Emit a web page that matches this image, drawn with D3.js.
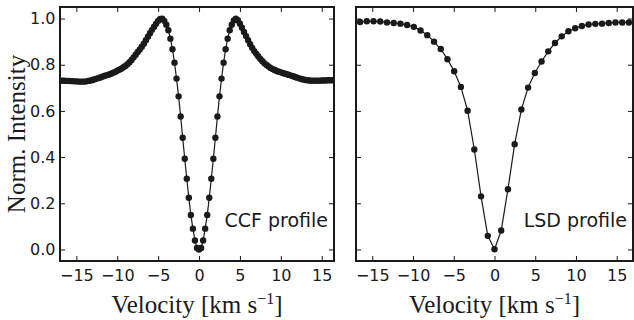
<!DOCTYPE html>
<html>
<head>
<meta charset="utf-8">
<script src="https://cdn.jsdelivr.net/npm/d3@7"></script>
<style>
  body { margin: 0; background: #fff; }
  .tick text { font-family: "DejaVu Sans", sans-serif; font-size: 16px; fill: #1a1a1a; }
  .tick line { stroke: #1a1a1a; stroke-width: 1; }
  .axis-label { font-family: "Liberation Serif", serif; font-size: 25px; fill: #1a1a1a; }
  .profile-label { font-family: "DejaVu Sans", sans-serif; font-size: 19px; fill: #1a1a1a; }
</style>
</head>
<body>
<div id="viz"></div>
<script>
const width = 634;
const height = 320;

// CCF profile (velocity in km/s, normalised intensity)
const ccfVelocity = [
  -17, -16.75, -16.5, -16.25, -16, -15.75, -15.5, -15.25, -15, -14.75, -14.5, -14.25, -14, -13.75, -13.5, -13.25,
  -13, -12.75, -12.5, -12.25, -12, -11.75, -11.5, -11.25, -11, -10.75, -10.5, -10.25, -10, -9.75, -9.5, -9.25,
  -9, -8.75, -8.5, -8.25, -8, -7.75, -7.5, -7.25, -7, -6.75, -6.5, -6.25, -6, -5.75, -5.5, -5.25,
  -5, -4.75, -4.5, -4.25, -4, -3.75, -3.5, -3.25, -3, -2.75, -2.5, -2.25, -2, -1.75, -1.5, -1.25,
  -1, -0.75, -0.5, -0.25, 0, 0.25, 0.5, 0.75, 1, 1.25, 1.5, 1.75, 2, 2.25, 2.5, 2.75,
  3, 3.25, 3.5, 3.75, 4, 4.25, 4.5, 4.75, 5, 5.25, 5.5, 5.75, 6, 6.25, 6.5, 6.75,
  7, 7.25, 7.5, 7.75, 8, 8.25, 8.5, 8.75, 9, 9.25, 9.5, 9.75, 10, 10.25, 10.5, 10.75,
  11, 11.25, 11.5, 11.75, 12, 12.25, 12.5, 12.75, 13, 13.25, 13.5, 13.75, 14, 14.25, 14.5, 14.75,
  15, 15.25, 15.5, 15.75, 16, 16.25, 16.5
];
const ccfIntensity = [
  0.731, 0.731, 0.731, 0.730, 0.730, 0.729, 0.729, 0.728, 0.728, 0.727, 0.727, 0.727, 0.727, 0.728, 0.730, 0.732,
  0.734, 0.737, 0.740, 0.743, 0.746, 0.749, 0.752, 0.755, 0.758, 0.761, 0.765, 0.769, 0.774, 0.778, 0.783, 0.789,
  0.795, 0.802, 0.811, 0.821, 0.832, 0.843, 0.855, 0.866, 0.878, 0.891, 0.906, 0.921, 0.936, 0.951, 0.965, 0.978,
  0.990, 0.998, 0.999, 0.990, 0.973, 0.949, 0.913, 0.867, 0.809, 0.740, 0.663, 0.576, 0.484, 0.393, 0.306, 0.224,
  0.149, 0.090, 0.039, 0.006, 0.000, 0.006, 0.039, 0.090, 0.149, 0.224, 0.306, 0.393, 0.484, 0.576, 0.663, 0.740,
  0.809, 0.867, 0.913, 0.949, 0.973, 0.992, 0.999, 0.993, 0.978, 0.960, 0.942, 0.924, 0.906, 0.889, 0.873, 0.859,
  0.847, 0.836, 0.825, 0.815, 0.806, 0.799, 0.792, 0.786, 0.781, 0.777, 0.773, 0.770, 0.767, 0.764, 0.761, 0.759,
  0.756, 0.753, 0.750, 0.747, 0.744, 0.741, 0.738, 0.736, 0.734, 0.733, 0.732, 0.731, 0.731, 0.731, 0.731, 0.731,
  0.732, 0.732, 0.732, 0.733, 0.733, 0.733, 0.733
];

// LSD profile
const lsdVelocity = [
  -16.5, -15.675, -14.85, -14.025, -13.2, -12.375, -11.55, -10.725, -9.9, -9.075, -8.25, -7.425, -6.6, -5.775,
  -4.95, -4.125, -3.3, -2.475, -1.65, -0.825, 0, 0.825, 1.65, 2.475, 3.3, 4.125, 4.95, 5.775, 6.6, 7.425,
  8.25, 9.075, 9.9, 10.725, 11.55, 12.375, 13.2, 14.025, 14.85, 15.675, 16.5
];
const lsdIntensity = [
  0.985, 0.988, 0.988, 0.987, 0.983, 0.981, 0.978, 0.972, 0.964, 0.948, 0.928, 0.900, 0.868, 0.824,
  0.772, 0.704, 0.601, 0.433, 0.230, 0.059, 0.001, 0.082, 0.261, 0.456, 0.606, 0.701, 0.764, 0.814, 0.858, 0.894,
  0.923, 0.945, 0.958, 0.968, 0.974, 0.977, 0.978, 0.981, 0.983, 0.983, 0.983
];

const xTicks = [-15, -10, -5, 0, 5, 10, 15];
const yTicks = [0, 0.2, 0.4, 0.6, 0.8, 1.0];

const svg = d3.select("#viz")
    .append("svg")
    .attr("width", width)
    .attr("height", height);

const plotTop = 7, plotBottom = 261;
const yScale = d3.scaleLinear().domain([-0.05, 1.05]).range([plotBottom, plotTop]);

const panels = [
    { id: "ccf", x0: 60, x1: 334, dom: [-17, 16.5], vel: ccfVelocity, val: ccfIntensity, label: "CCF profile", showY: true },
    { id: "lsd", x0: 356, x1: 633, dom: [-17, 17], vel: lsdVelocity, val: lsdIntensity, label: "LSD profile", showY: false }
];

panels.forEach(p => {
    const xScale = d3.scaleLinear().domain(p.dom).range([p.x0, p.x1]);
    const g = svg.append("g");

    g.append("clipPath").attr("id", "clip-" + p.id)
        .append("rect")
        .attr("x", p.x0).attr("y", plotTop)
        .attr("width", p.x1 - p.x0).attr("height", plotBottom - plotTop);

    const pts = p.vel.map((v, i) => ({ v: v, y: p.val[i] }));
    const marks = g.append("g").attr("clip-path", `url(#clip-${p.id})`);

    const line = d3.line().x(d => xScale(d.v)).y(d => yScale(d.y));
    marks.append("path")
        .attr("d", line(pts))
        .attr("fill", "none")
        .attr("stroke", "#1a1a1a")
        .attr("stroke-width", 1.2);

    marks.selectAll("circle")
        .data(pts)
        .enter()
        .append("circle")
        .attr("cx", d => xScale(d.v))
        .attr("cy", d => yScale(d.y))
        .attr("r", 3.2)
        .attr("fill", "#1a1a1a");

    // axes with inward ticks on all four sides
    const xb = g.append("g").attr("transform", `translate(0,${plotBottom})`)
        .call(d3.axisBottom(xScale).tickValues(xTicks).tickSize(-5).tickPadding(8.5));
    const xt = g.append("g").attr("transform", `translate(0,${plotTop})`)
        .call(d3.axisTop(xScale).tickValues(xTicks).tickSize(-5).tickFormat(""));
    const yl = g.append("g").attr("transform", `translate(${p.x0},0)`)
        .call(d3.axisLeft(yScale).tickValues(yTicks).tickSize(-5).tickPadding(4.5)
            .tickFormat(p.showY ? d3.format(".1f") : ""));
    const yr = g.append("g").attr("transform", `translate(${p.x1},0)`)
        .call(d3.axisRight(yScale).tickValues(yTicks).tickSize(-5).tickFormat(""));
    [xb, xt, yl, yr].forEach(a => {
        a.select(".domain").remove();
        a.attr("font-family", null).attr("font-size", null);
    });

    g.append("rect")
        .attr("x", p.x0).attr("y", plotTop)
        .attr("width", p.x1 - p.x0).attr("height", plotBottom - plotTop)
        .attr("fill", "none")
        .attr("stroke", "#1a1a1a")
        .attr("stroke-width", 2);

    g.append("text")
        .attr("class", "profile-label")
        .attr("x", p.x1 - 6)
        .attr("y", 226.5)
        .attr("text-anchor", "end")
        .text(p.label);

    const xl = g.append("text")
        .attr("class", "axis-label")
        .attr("x", (p.x0 + p.x1) / 2)
        .attr("y", 313)
        .attr("text-anchor", "middle");
    xl.append("tspan").text("Velocity [km s");
    xl.append("tspan").attr("dy", -9).attr("font-size", 16).text("\u22121");
    xl.append("tspan").attr("dy", 9).text("]");
});

svg.append("text")
    .attr("class", "axis-label")
    .attr("transform", `translate(25,${(plotTop + plotBottom) / 2}) rotate(-90)`)
    .attr("text-anchor", "middle")
    .text("Norm. Intensity");
</script>
</body>
</html>
